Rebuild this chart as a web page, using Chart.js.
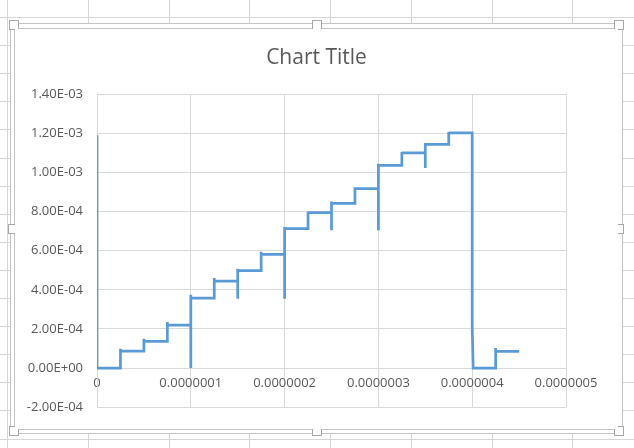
<!DOCTYPE html>
<html>
<head>
<meta charset="utf-8">
<script src="https://cdn.jsdelivr.net/npm/chart.js@4/dist/chart.umd.min.js"></script>
<style>
  html, body { margin: 0; padding: 0; width: 634px; height: 448px; overflow: hidden; background: #fff; }
  #sheet { position: absolute; left: 0; top: 0; }
  #wrap { position: absolute; left: 15px; top: 29px; width: 603px; height: 400px; background: #fff; }
</style>
</head>
<body>
<canvas id="sheet" width="634" height="448"></canvas>
<div id="wrap"><canvas id="chart"></canvas></div>
<script>
// Time (s) and measured value of the step waveform, in drawing order.
const timeS = [
  0, 0,
  2.5e-8, 2.5e-8, 2.5e-8,
  5e-8, 5e-8, 5e-8,
  7.5e-8, 7.5e-8, 7.5e-8,
  1e-7, 1e-7, 1e-7, 1e-7,
  1.25e-7, 1.25e-7, 1.25e-7,
  1.5e-7, 1.5e-7, 1.5e-7, 1.5e-7,
  1.75e-7, 1.75e-7, 1.75e-7,
  2e-7, 2e-7, 2e-7, 2e-7,
  2.25e-7, 2.25e-7, 2.25e-7,
  2.5e-7, 2.5e-7, 2.5e-7, 2.5e-7,
  2.75e-7, 2.75e-7, 2.75e-7,
  3e-7, 3e-7, 3e-7, 3e-7,
  3.25e-7, 3.25e-7, 3.25e-7,
  3.5e-7, 3.5e-7, 3.5e-7, 3.5e-7,
  3.75e-7, 3.75e-7, 3.75e-7,
  4e-7, 4e-7, 4.01e-7,
  4.25e-7, 4.25e-7, 4.25e-7,
  4.5e-7
];
const values = [
  1.19e-3, 0,
  0, 9.9e-5, 8.7e-5,
  8.7e-5, 1.50e-4, 1.36e-4,
  1.36e-4, 2.35e-4, 2.20e-4,
  2.20e-4, 0, 3.75e-4, 3.58e-4,
  3.58e-4, 4.60e-4, 4.45e-4,
  4.45e-4, 3.54e-4, 5.08e-4, 4.98e-4,
  4.98e-4, 5.95e-4, 5.81e-4,
  5.81e-4, 3.54e-4, 7.21e-4, 7.13e-4,
  7.13e-4, 8.01e-4, 7.94e-4,
  7.94e-4, 7.04e-4, 8.52e-4, 8.42e-4,
  8.42e-4, 9.24e-4, 9.17e-4,
  9.17e-4, 7.04e-4, 1.045e-3, 1.036e-3,
  1.036e-3, 1.105e-3, 1.100e-3,
  1.100e-3, 1.023e-3, 1.151e-3, 1.144e-3,
  1.144e-3, 1.207e-3, 1.202e-3,
  1.202e-3, 2.18e-4, 0,
  0, 1.02e-4, 8.5e-5,
  8.5e-5
];

// Axis ticks and their printed labels.
const xTickValues = [0, 1e-7, 2e-7, 3e-7, 4e-7, 5e-7];
const xTickLabels = ['0', '0.0000001', '0.0000002', '0.0000003', '0.0000004', '0.0000005'];
const yTickValues = [-2e-4, 0, 2e-4, 4e-4, 6e-4, 8e-4, 1e-3, 1.2e-3, 1.4e-3];
const yTickLabels = ['-2.00E-04', '0.00E+00', '2.00E-04', '4.00E-04', '6.00E-04', '8.00E-04', '1.00E-03', '1.20E-03', '1.40E-03'];

// Worksheet backdrop: cell grid, chart frame and sizing handles.
(function drawSheet() {
  const g = document.getElementById('sheet').getContext('2d');
  g.fillStyle = '#fff';
  g.fillRect(0, 0, 634, 448);
  g.strokeStyle = '#d6d6d6';
  g.lineWidth = 1;
  const seg = (x1, y1, x2, y2) => { g.beginPath(); g.moveTo(x1, y1); g.lineTo(x2, y2); g.stroke(); };
  for (let k = 0; k < 16; k++) { const y = Math.round(17 + 28.1 * k) + 0.5; seg(0, y, 634, y); }
  for (let k = 0; k < 8; k++) { const x = Math.round(7.3 + 80.7 * k) + 0.5; seg(x, 0, x, 448); }
  // chart object area
  g.fillStyle = '#fff';
  g.fillRect(10, 23, 613, 411);
  g.strokeStyle = '#c4c4c4';
  g.strokeRect(10.5, 23.5, 612, 410);
  g.strokeRect(14.5, 28.5, 603, 401);
  const handles = [[14, 25], [317, 25], [619, 25], [13, 229], [619, 229], [14, 431], [317, 431], [619, 431]];
  for (const [cx, cy] of handles) {
    g.fillStyle = '#fff';
    g.fillRect(cx - 4.5, cy - 4.5, 9, 9);
    g.strokeStyle = '#a8a8a8';
    g.strokeRect(cx - 4.5, cy - 4.5, 9, 9);
  }
})();

const points = timeS.map((t, i) => ({ x: t, y: values[i] }));
const font = 'Open Sans, Liberation Sans, sans-serif';

new Chart(document.getElementById('chart'), {
  type: 'scatter',
  data: {
    datasets: [{
      data: points,
      showLine: true,
      borderColor: '#5b9bd5',
      borderWidth: 2.75,
      pointRadius: 0,
      pointHoverRadius: 0,
      tension: 0,
      fill: false
    }]
  },
  options: {
    responsive: true,
    maintainAspectRatio: false,
    animation: false,
    events: [],
    layout: { padding: { left: 0, right: 0, top: 0, bottom: 21 } },
    plugins: {
      legend: { display: false },
      tooltip: { enabled: false },
      title: {
        display: true,
        text: 'Chart Title',
        color: '#595959',
        font: { family: font, size: 21, weight: 'normal' },
        padding: { top: 16, bottom: 24 }
      }
    },
    scales: {
      x: {
        type: 'linear',
        position: { y: 0 },
        min: 0,
        max: 5e-7,
        afterBuildTicks: (axis) => { axis.ticks = xTickValues.map(v => ({ value: v })); },
        ticks: {
          color: '#595959',
          font: { family: font, size: 13 },
          padding: 7,
          maxRotation: 0,
          autoSkip: false,
          callback: (v, i) => xTickLabels[i]
        },
        grid: { color: '#d9d9d9', lineWidth: 1, drawTicks: false },
        border: { color: '#d9d9d9' }
      },
      y: {
        type: 'linear',
        position: 'left',
        min: -2e-4,
        max: 1.4e-3,
        afterBuildTicks: (axis) => { axis.ticks = yTickValues.map(v => ({ value: v })); },
        afterFit: (axis) => { axis.width = 82; },
        ticks: {
          color: '#595959',
          font: { family: font, size: 13 },
          padding: 14,
          autoSkip: false,
          callback: (v, i) => yTickLabels[i]
        },
        grid: { color: '#d9d9d9', lineWidth: 1, drawTicks: false },
        border: { color: '#d9d9d9' }
      },
      // empty right-hand margin so the title stays centred on the whole chart
      yRight: {
        type: 'linear',
        position: 'right',
        display: true,
        afterFit: (axis) => { axis.width = 52; },
        ticks: { display: false },
        grid: { display: false },
        border: { display: false }
      }
    }
  }
});
</script>
</body>
</html>
